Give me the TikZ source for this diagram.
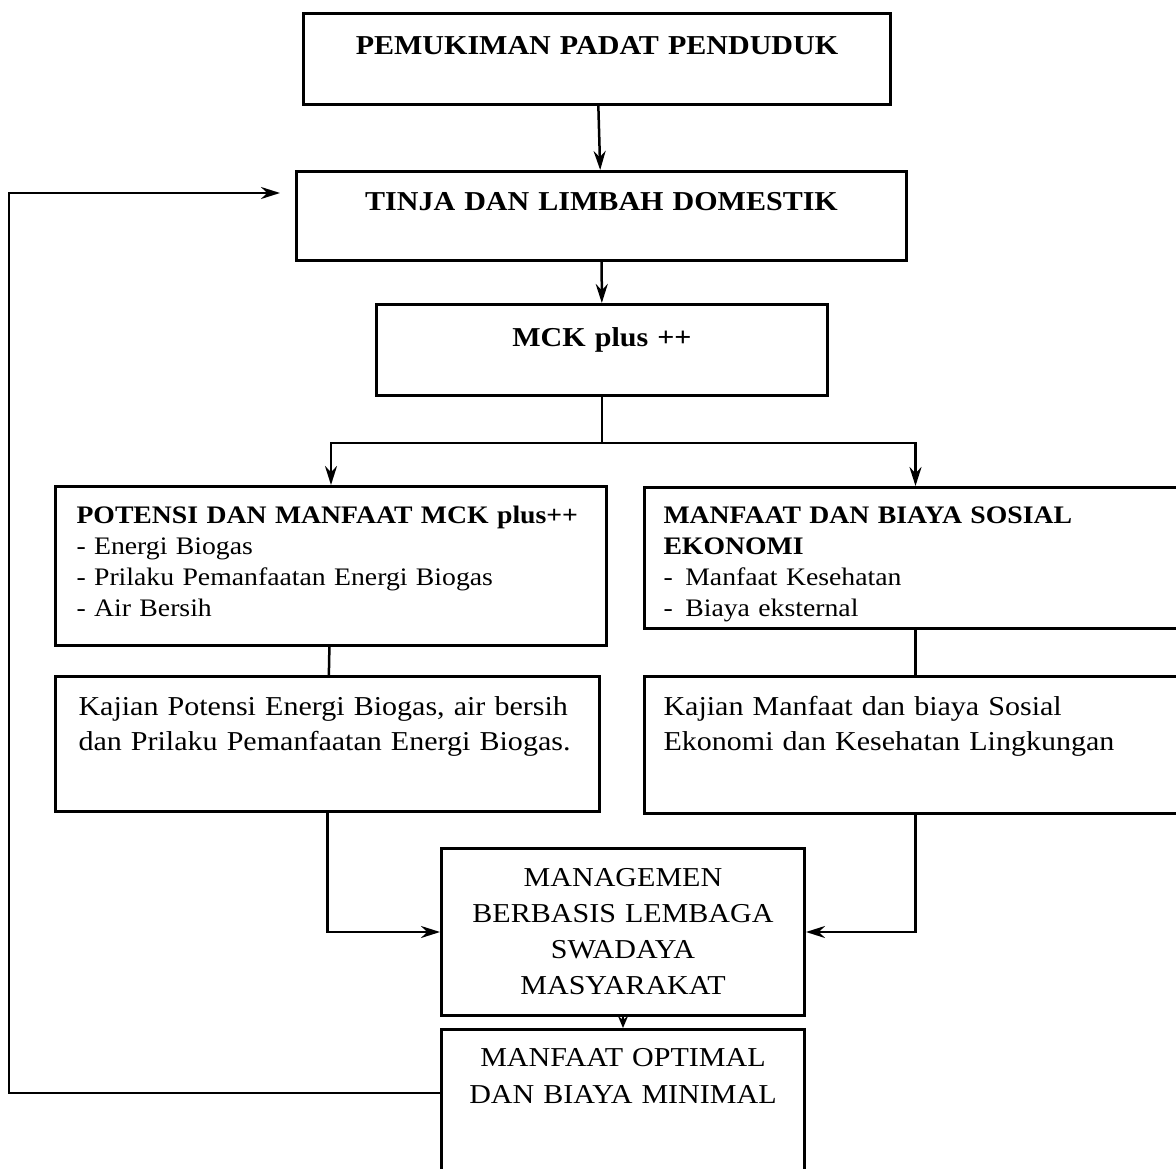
\documentclass[tikz,border=0pt]{standalone}
\usepackage{fontspec}
\setmainfont{Liberation Serif}[FakeStretch=1.1]
\usetikzlibrary{arrows.meta,calc}
\begin{document}
\begin{tikzpicture}[x=1pt,y=-1pt,
    box/.style={draw,line width=3pt,anchor=north west,inner sep=0pt,align=center,
      font=\fontsize{27.3}{35}\selectfont},
    listbox/.style={box,align=left,font=\fontsize{25.2}{31}\selectfont},
    line/.style={line width=2.5pt},
    arr/.style={line width=2.5pt,-{Stealth[length=19pt,width=12pt]}},
    smallarr/.style={line width=2.5pt,-{Stealth[length=12pt,width=10pt]}}]
  \path[use as bounding box,clip] (0,0) rectangle (1176,1169);
  \draw
    (302,12) node[box,text width=587pt,text height=41pt,text depth=50pt] (pemukiman)
      {\bfseries PEMUKIMAN PADAT PENDUDUK}
    (295,170) node[box,text width=610pt,text height=39pt,text depth=50pt] (tinja)
      {\bfseries TINJA DAN LIMBAH DOMESTIK}
    (375,303) node[box,text width=451pt,text height=42pt,text depth=49pt] (mck)
      {\bfseries MCK plus ++}
    (54,485) node[listbox,inner xsep=21pt,text width=509pt,text height=37pt,text depth=122pt] (potensi)
      {\textbf{POTENSI DAN MANFAAT MCK plus++}\\- Energi Biogas\\- Prilaku Pemanfaatan Energi Biogas\\- Air Bersih}
    (643,486) node[listbox,inner xsep=19pt,text width=504pt,text height=36pt,text depth=105pt] (manfaat)
      {\textbf{MANFAAT DAN BIAYA SOSIAL}\\\textbf{EKONOMI}\\-\enspace Manfaat Kesehatan\\-\enspace Biaya eksternal}
    (54,675) node[box,align=left,inner xsep=23pt,text width=498pt,text height=39pt,text depth=96pt] (kajianpotensi)
      {Kajian Potensi Energi Biogas, air bersih\\dan Prilaku Pemanfaatan Energi Biogas.}
    (643,675) node[box,align=left,inner xsep=19pt,text width=504pt,text height=39pt,text depth=98pt] (kajianmanfaat)
      {Kajian Manfaat dan biaya Sosial\\Ekonomi dan Kesehatan Lingkungan}
    (440,847) node[box,text width=363pt,text height=38pt,text depth=129pt,
        font=\fontsize{27.3}{36}\selectfont] (managemen)
      {MANAGEMEN\\BERBASIS LEMBAGA\\SWADAYA\\MASYARAKAT}
    (440,1028) node[box,text width=363pt,text height=37pt,text depth=140pt,
        font=\fontsize{27.3}{37}\selectfont] (optimal)
      {MANFAAT OPTIMAL\\DAN BIAYA MINIMAL};
  \draw[arr] (pemukiman) -- (tinja);
  \draw[arr] (tinja) -- (mck);
  \draw[line] (mck.south) -- ++(0,46) coordinate (split);
  \draw[arr] (split) -| (potensi.north);
  \draw[arr] (split) -| (manfaat.north);
  \draw[line] (potensi) -- (kajianpotensi);
  \draw[line] (manfaat) -- (kajianmanfaat);
  \draw[arr] (kajianpotensi.south) |- (managemen.west);
  \draw[arr] (kajianmanfaat.south) |- (managemen.east);
  \draw[smallarr] (managemen) -- (optimal);
  \draw[arr,shorten >=15pt] ($(optimal.north west)+(0,65)$) -- ++(-431,0)
    |- ($(tinja.north west)+(0,23)$);
\end{tikzpicture}
\end{document}
